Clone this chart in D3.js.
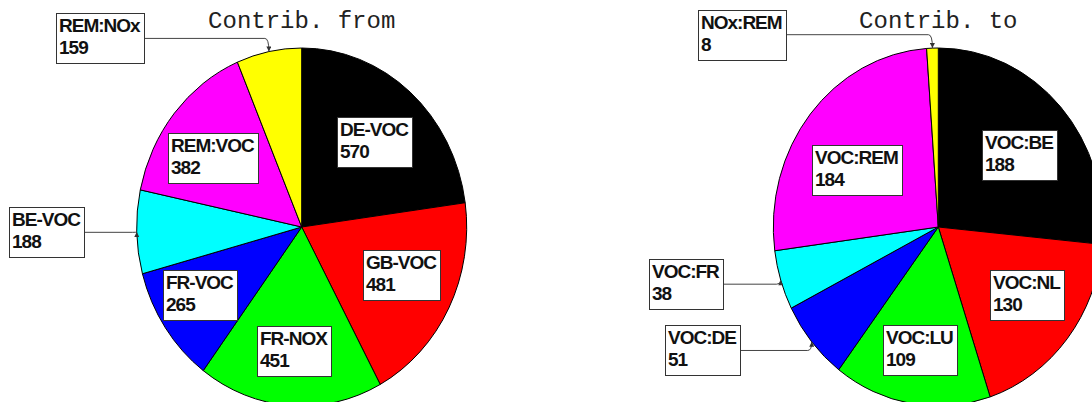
<!DOCTYPE html>
<html>
<head>
<meta charset="utf-8">
<script src="https://cdn.jsdelivr.net/npm/d3@7"></script>
<style>
  html, body { margin:0; padding:0; background:#fff; }
  .lbl { font-family:"Liberation Sans", Arial, sans-serif; font-weight:bold; font-size:19px; letter-spacing:-1px; fill:#111; }
  .ttl { font-family:"Liberation Mono", "Courier New", monospace; font-size:24px; fill:#222; }
</style>
</head>
<body>
<div id="vis"></div>
<script>
/* Data */
const leftLabels  = ["DE-VOC","GB-VOC","FR-NOX","FR-VOC","BE-VOC","REM:VOC","REM:NOx"];
const leftValues  = [570, 481, 451, 265, 188, 382, 159];
const rightLabels = ["VOC:BE","VOC:NL","VOC:LU","VOC:DE","VOC:FR","VOC:REM","NOx:REM"];
const rightValues = [188, 130, 109, 51, 38, 184, 8];
const sliceColours = ["#000000","#ff0000","#00ff00","#0000ff","#00ffff","#ff00ff","#ffff00"];
const titles = ["Contrib. from","Contrib. to"];

/* Layout */
const W = 1092, H = 402;
const pieX = [301.7, 938.3], pieY = 227;
const rx = 165, ry = 179;
const smallShare = 0.08;     // slices below this get an outside label
const labelFrac = 0.69;
// small hand nudges for label boxes (layout only)
const leftNudge  = [[-2,8],[-2,-8],[0,1],[-8,-2],[0,0],[-1,10],[6,0]];
const rightNudge = [[-3,11],[0,-9],[0,1],[4,0],[0,0],[7,21],[0,0]];

const svg = d3.select("#vis").append("svg")
    .attr("width", W).attr("height", H);

svg.append("defs").append("marker")
    .attr("id","arrow").attr("viewBox","0 0 10 10")
    .attr("refX",10).attr("refY",5)
    .attr("markerWidth",6).attr("markerHeight",5)
    .attr("markerUnits","userSpaceOnUse")
    .attr("orient","auto")
  .append("path").attr("d","M0,0L10,5L0,10z").attr("fill","#333");

const pie = d3.pie().sort(null).value(d => d.value);
const arc = d3.arc().innerRadius(0).outerRadius(ry);

/* point on the ellipse at angle a, fraction f of radius */
const onEllipse = (cx, a, f) => [cx + rx*f*Math.sin(a), pieY - ry*f*Math.cos(a)];

function labelBox(g, x, y, lines, anchorRight){
  const box = g.append("g");
  const rect = box.append("rect").attr("fill","#fff").attr("stroke","#333").attr("stroke-width",1);
  const t1 = box.append("text").attr("class","lbl").text(lines[0]);
  const t2 = box.append("text").attr("class","lbl").text(lines[1]);
  const tw = Math.max(t1.node().getComputedTextLength(), t2.node().getComputedTextLength());
  const bw = Math.round(tw + 7), bh = 50;
  const left = Math.round(anchorRight ? x - bw : x - bw/2);
  const top  = Math.round(y - bh/2);
  rect.attr("x", left+0.5).attr("y", top+0.5).attr("width", bw).attr("height", bh);
  t1.attr("x", left+3).attr("y", top+19);
  t2.attr("x", left+3).attr("y", top+41);
}

function drawPie(cx, labels, values, title, nudge){
  const rows = labels.map((l,i) => ({label:l, value:values[i], colour:sliceColours[i], nudge:nudge[i]}));
  const total = d3.sum(values);
  const slices = pie(rows);

  const g = svg.append("g");
  g.append("g")
    .attr("transform", `translate(${cx},${pieY}) scale(${rx/ry},1)`)
    .selectAll("path").data(slices).join("path")
      .attr("d", arc)
      .attr("fill", d => d.data.colour)
      .attr("stroke", "#000").attr("stroke-width", 1)
      .attr("vector-effect","non-scaling-stroke");

  g.append("text").attr("class","ttl")
    .attr("x", cx).attr("y", 28).attr("text-anchor","middle")
    .text(title);

  slices.forEach(d => {
    const mid = (d.startAngle + d.endAngle)/2;
    const lines = [d.data.label, String(d.data.value)];
    if (d.data.value/total >= smallShare){
      const [x, y] = onEllipse(cx, mid, labelFrac);
      labelBox(g, x + d.data.nudge[0], y + d.data.nudge[1], lines, false);
    } else {
      const [ex, ey] = onEllipse(cx, mid, 1);
      const bxRight = cx + 0.413*(ex - cx) - 150 + d.data.nudge[0];
      const by = pieY + 1.075*(ey - pieY) + d.data.nudge[1];
      g.append("path")
        .attr("d", `M${bxRight},${by}H${ex-4}Q${ex},${by} ${ex},${ey}`)
        .attr("fill","none").attr("stroke","#444").attr("stroke-width",1)
        .attr("marker-end","url(#arrow)");
      labelBox(g, bxRight, by, lines, true);
    }
  });
}

drawPie(pieX[0], leftLabels, leftValues, titles[0], leftNudge);
drawPie(pieX[1], rightLabels, rightValues, titles[1], rightNudge);
</script>
</body>
</html>
